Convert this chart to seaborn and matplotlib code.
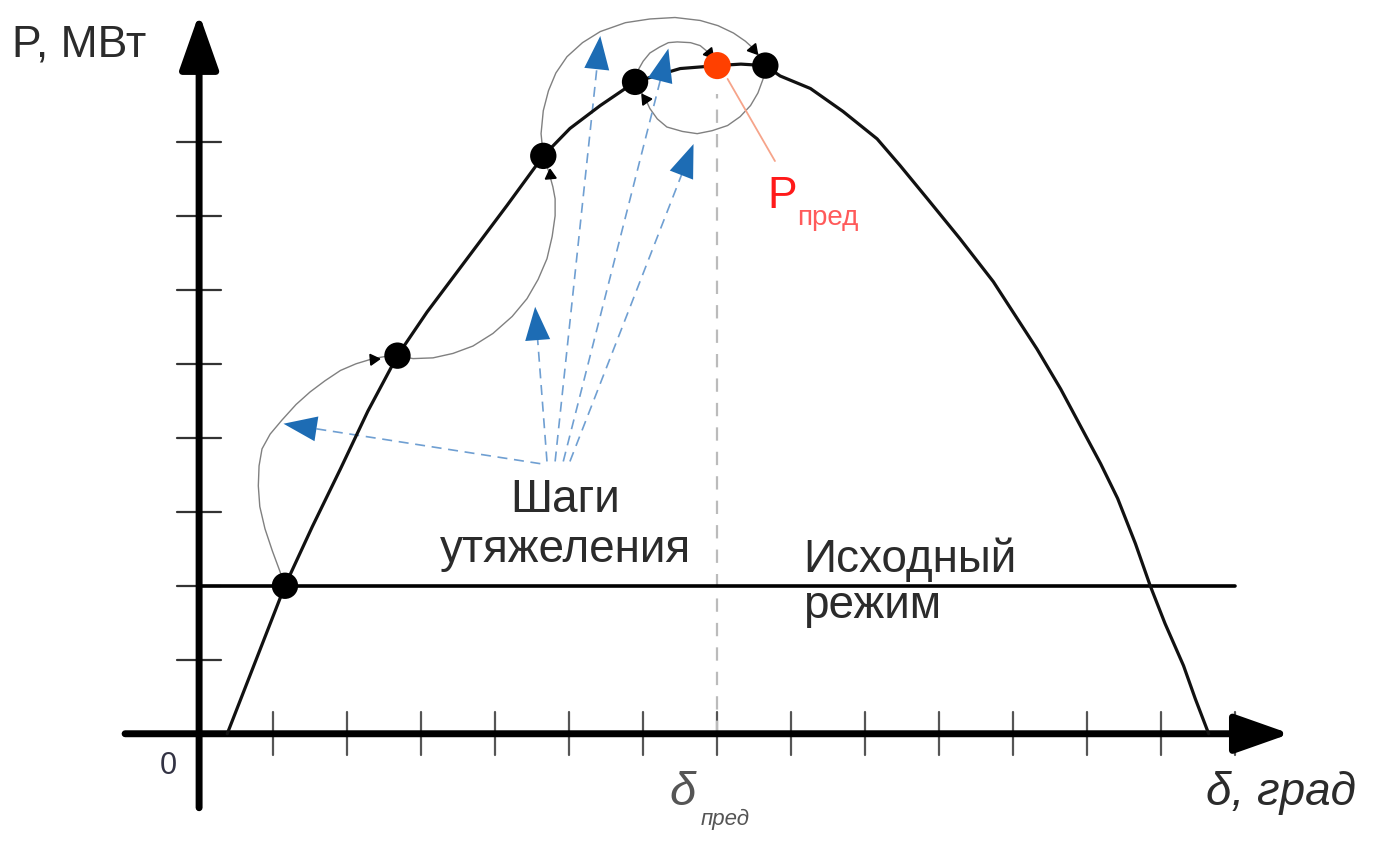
import numpy as np
import pandas as pd
import matplotlib.pyplot as plt
import seaborn as sns

# power-angle characteristic P(delta) (tick units)
curve_delta = [0.38, 0.77, 1.16, 1.53, 1.91, 2.28, 2.68, 3.08, 3.62, 4.16, 4.65, 5.01,
               5.42, 5.89, 6.50, 7.00, 7.32, 7.65, 7.85, 8.26, 8.70, 9.16, 9.47, 9.84,
               10.28, 10.73, 11.32, 11.64, 11.95, 12.18, 12.41, 12.65, 12.85,
               13.05, 13.30, 13.46, 13.64]
curve_p = [0.00, 1.00, 2.00, 2.80, 3.58, 4.36, 5.11, 5.70, 6.42, 7.14, 7.81, 8.18,
           8.49, 8.81, 8.99, 9.03, 9.05, 9.03, 8.89, 8.72, 8.41, 8.04, 7.68, 7.23,
           6.69, 6.11, 5.20, 4.66, 4.08, 3.65, 3.18, 2.57, 2.00,
           1.49, 0.92, 0.47, 0.00]

# loading steps (black dots) and the limit point (red)
step_delta = [1.16, 2.68, 4.65, 5.89, 7.65]
step_p = [2.0, 5.11, 7.81, 8.81, 9.03]
limit_delta = 7.0
limit_p = 9.03
base_p = 2.0

# thin trajectories between steps
arc1_x = [1.16, 1.09, 0.99, 0.89, 0.82, 0.80, 0.81, 0.85, 0.96, 1.12, 1.31, 1.50, 1.70,
          1.91, 2.12, 2.35, 2.58]
arc1_y = [2.00, 2.20, 2.47, 2.77, 3.07, 3.35, 3.62, 3.85, 4.05, 4.24, 4.45, 4.62, 4.77,
          4.91, 5.00, 5.07, 5.11]
arc2_x = [2.68, 2.89, 3.16, 3.43, 3.70, 3.97, 4.23, 4.43, 4.58, 4.70, 4.77, 4.81, 4.81,
          4.78, 4.72, 4.65]
arc2_y = [5.11, 5.07, 5.08, 5.14, 5.24, 5.41, 5.64, 5.88, 6.14, 6.42, 6.72, 7.00, 7.23,
          7.39, 7.61, 7.81]
arc3_x = [4.65, 4.62, 4.65, 4.72, 4.82, 4.97, 5.18, 5.42, 5.76, 6.09, 6.43, 6.77, 7.01,
          7.22, 7.38, 7.49, 7.58, 7.65]
arc3_y = [7.81, 8.11, 8.42, 8.69, 8.93, 9.15, 9.34, 9.49, 9.61, 9.66, 9.68, 9.64, 9.57,
          9.47, 9.36, 9.26, 9.15, 9.03]
arc4_x = [7.65, 7.62, 7.55, 7.45, 7.31, 7.14, 6.93, 6.73, 6.53, 6.32, 6.19, 6.09, 6.03,
          5.96, 5.89]
arc4_y = [9.03, 8.85, 8.66, 8.49, 8.34, 8.22, 8.15, 8.11, 8.14, 8.20, 8.31, 8.45, 8.58,
          8.69, 8.81]
arc5_x = [5.89, 5.92, 6.00, 6.09, 6.22, 6.34, 6.46, 6.64, 6.77, 6.89, 6.96, 7.00]
arc5_y = [8.81, 8.95, 9.09, 9.20, 9.28, 9.34, 9.35, 9.34, 9.30, 9.20, 9.12, 9.03]
arcs = [(arc1_x, arc1_y), (arc2_x, arc2_y), (arc3_x, arc3_y), (arc4_x, arc4_y), (arc5_x, arc5_y)]
arc_heads = [(2.35, 5.07, -85), (4.74, 7.55, 5), (7.49, 9.26, -140), (6.03, 8.58, 35), (6.89, 9.20, -140)]

# blue dashed pointers from the "Шаги утяжеления" label
ptr_start_x = [4.61, 4.70, 4.81, 4.92, 5.01]
ptr_start_y = [3.65, 3.68, 3.68, 3.68, 3.68]
ptr_end_x = [1.14, 4.54, 5.42, 6.34, 6.68]
ptr_end_y = [4.19, 5.77, 9.43, 9.26, 7.97]

x_ticks = list(range(1, 15))
y_ticks = list(range(1, 9))

sns.set_theme(style='white')
plt.rcParams['font.family'] = ['Liberation Sans', 'DejaVu Sans']

fig = plt.figure(figsize=(13.73, 8.45), dpi=100)
ax = fig.add_axes([0, 0, 1, 1])
ax.set_xlim(-2.69, 15.86)
ax.set_ylim(-1.49, 9.93)
ax.axis('off')

# axes with arrows
ax.annotate('', xy=(14.74, 0), xytext=(-1.0, 0),
            arrowprops=dict(arrowstyle='-|>,head_length=0.85,head_width=0.3', lw=5,
                            color='black', mutation_scale=40, shrinkA=0, shrinkB=0))
ax.annotate('', xy=(0, 9.73), xytext=(0, -1.0),
            arrowprops=dict(arrowstyle='-|>,head_length=0.85,head_width=0.3', lw=5,
                            color='black', mutation_scale=40, shrinkA=0, shrinkB=0))
for t in x_ticks:
    ax.plot([t, t], [-0.29, 0.29], color='#555555', lw=1.6, zorder=1)
for t in y_ticks:
    ax.plot([-0.3, 0.3], [t, t], color='#333333', lw=1.6, zorder=1)

# initial regime line and limit marker line
ax.plot([0, 14.0], [base_p, base_p], color='black', lw=2.6, zorder=2)
ax.plot([limit_delta, limit_delta], [0, 8.65], color='#bbbbbb', lw=1.6,
        dashes=(6, 5), zorder=1)

# trajectories
for ax_x, ax_y in arcs:
    sns.lineplot(x=ax_x, y=ax_y, sort=False, estimator=None, color='#808080', lw=1.0,
                 ax=ax, zorder=3)
for hx, hy, ang in arc_heads:
    ax.plot(hx, hy, marker=(3, 0, ang), color='black', markersize=9, zorder=6)

# main characteristic
curve = pd.DataFrame({'delta': curve_delta, 'P': curve_p})
sns.lineplot(data=curve, x='delta', y='P', sort=False, estimator=None, color='#111111',
             lw=2.3, ax=ax, zorder=4)

# blue pointers
for sx, sy, ex, ey in zip(ptr_start_x, ptr_start_y, ptr_end_x, ptr_end_y):
    d = np.hypot(ex - sx, ey - sy)
    bx = ex - (ex - sx) / d * 0.3
    by = ey - (ey - sy) / d * 0.3
    ax.plot([sx, bx], [sy, by], color='#6f9fd2', lw=1.2, dashes=(6, 4), zorder=3)
    ax.annotate('', xy=(ex, ey), xytext=(bx, by),
                arrowprops=dict(arrowstyle='-|>,head_length=1.2,head_width=0.45',
                                color='#1d6cb4', lw=0, mutation_scale=20,
                                shrinkA=0, shrinkB=0), zorder=5)

# step points and limit point
sns.scatterplot(x=step_delta, y=step_p, color='black', s=360, edgecolor='none', ax=ax,
                zorder=7)
ax.plot([7.14, 7.78], [8.85, 7.74], color='#f6a48a', lw=1.3, zorder=5)
sns.scatterplot(x=[limit_delta], y=[limit_p], color='#ff4000', s=380, edgecolor='none',
                ax=ax, zorder=8)

# labels
txt = '#2b2b2b'
ax.text(-2.53, 9.32, 'P, МВт', fontsize=32, color=txt, va='center', ha='left')
ax.text(-0.42, -0.42, '0', fontsize=22, color='#333344', va='center', ha='center')
ax.text(4.95, 3.01, 'Шаги', fontsize=33, color=txt, ha='center', va='baseline')
ax.text(4.95, 2.34, 'утяжеления', fontsize=33, color=txt, ha='center', va='baseline')
ax.text(8.16, 2.20, 'Исходный', fontsize=33, color=txt, ha='left', va='baseline')
ax.text(8.16, 1.58, 'режим', fontsize=33, color=txt, ha='left', va='baseline')
ax.text(7.68, 7.12, 'P', fontsize=32, color='#ff1a1a', ha='left', va='baseline')
ax.text(8.08, 6.89, 'пред', fontsize=20, color='#ff5a5a', ha='left', va='baseline')
ax.text(6.36, -0.95, 'δ', fontsize=34, color='#555555', style='italic', ha='left',
        va='baseline')
ax.text(6.78, -1.22, 'пред', fontsize=16, color='#555555', style='italic', ha='left',
        va='baseline')
ax.text(13.6, -0.95, 'δ, град', fontsize=33, color=txt, style='italic', ha='left',
        va='baseline')

fig.savefig('out.png', dpi=100)
